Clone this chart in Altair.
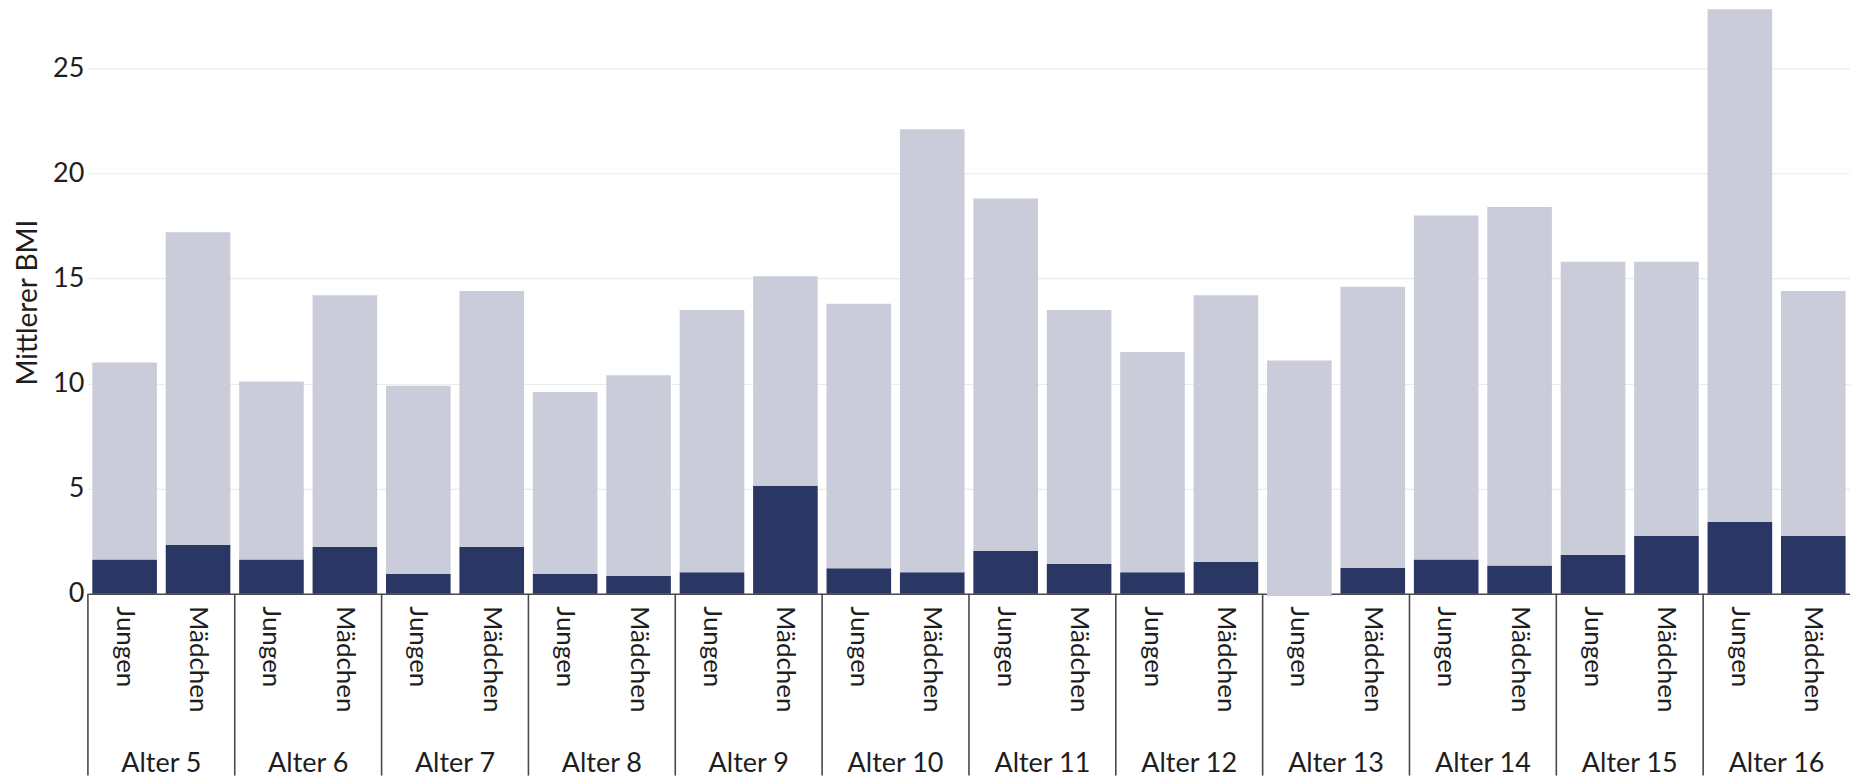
import altair as alt
import pandas as pd

ages = ["Alter 5", "Alter 6", "Alter 7", "Alter 8", "Alter 9", "Alter 10",
        "Alter 11", "Alter 12", "Alter 13", "Alter 14", "Alter 15", "Alter 16"]
sexes = ["Jungen", "Mädchen"]

# top of the light bar (stacked total)
total_jungen = [11.0, 10.1, 9.9, 9.6, 13.5, 13.8, 18.8, 11.5, 11.1, 18.0, 15.8, 27.8]
total_maedchen = [17.2, 14.2, 14.4, 10.4, 15.1, 22.1, 13.5, 14.2, 14.6, 18.4, 15.8, 14.4]
# dark lower segment
dark_jungen = [1.63, 1.63, 0.95, 0.95, 1.03, 1.22, 2.03, 1.03, -0.1, 1.63, 1.86, 3.43]
dark_maedchen = [2.33, 2.24, 2.24, 0.84, 5.14, 1.03, 1.43, 1.52, 1.24, 1.35, 2.76, 2.76]

rows = []
for i, a in enumerate(ages):
    rows.append({"age": a, "sex": "Jungen", "key": a + "|Jungen",
                 "total": total_jungen[i], "dark": dark_jungen[i]})
    rows.append({"age": a, "sex": "Mädchen", "key": a + "|Mädchen",
                 "total": total_maedchen[i], "dark": dark_maedchen[i]})
df = pd.DataFrame(rows)
keys = list(df["key"])

W = 1764
H = 584
FONT = "Lato"
TXT = "#1e1e1e"
LINE = "#4a4a4a"

xscale = alt.Scale(domain=keys, paddingInner=0, paddingOuter=0)
yscale = alt.Scale(domain=[0, 27.75], nice=False)

base = alt.Chart(df)

xaxis = alt.Axis(title=None, labelAngle=90, labelExpr="split(datum.label, '|')[1]",
                 ticks=False, domain=True, domainColor=LINE, domainWidth=1.5,
                 labelPadding=12, labelFontSize=26, labelColor=TXT, labelFont=FONT,
                 grid=False)
yaxis = alt.Axis(title="Mittlerer BMI", values=[0, 5, 10, 15, 20, 25], ticks=False,
                 domain=False, grid=True, gridColor="#ebebeb", gridWidth=1.2,
                 labelFontSize=27, labelColor=TXT, labelFont=FONT, labelPadding=4,
                 titleFontSize=28, titleFont=FONT, titleColor=TXT,
                 titleFontWeight="normal", titlePadding=10)

dark = base.mark_bar(color="#2a3663", width=alt.RelativeBandSize(0.88)).encode(
    x=alt.X("key:N", sort=keys, scale=xscale, axis=xaxis),
    y=alt.Y("dark:Q", scale=yscale, axis=yaxis),
)

light = base.mark_bar(color="#cacdd9", width=alt.RelativeBandSize(0.88)).encode(
    x=alt.X("key:N", sort=keys, scale=xscale, axis=xaxis),
    y=alt.Y("dark:Q", scale=yscale, axis=yaxis),
    y2="total:Q",
)

seps = base.transform_filter(alt.datum.sex == "Jungen").mark_rule(
    color=LINE, strokeWidth=1.6).encode(
    x=alt.X("key:N", sort=keys, scale=xscale, axis=xaxis, bandPosition=0),
    y=alt.value(H),
    y2=alt.value(H + 182),
)

groups = base.transform_filter(alt.datum.sex == "Jungen").mark_text(
    fontSize=27, font=FONT, color=TXT, baseline="middle", align="center").encode(
    x=alt.X("key:N", sort=keys, scale=xscale, axis=xaxis, bandPosition=1),
    y=alt.value(H + 170),
    text="age:N",
)

chart = alt.layer(dark, light, seps, groups).properties(
    width=W, height=H,
    padding={"left": 6, "top": 0, "right": 0, "bottom": 0}
).configure(font=FONT).configure_view(stroke=None)

chart.save("out.html", embed_options={"renderer": "svg", "actions": False})
